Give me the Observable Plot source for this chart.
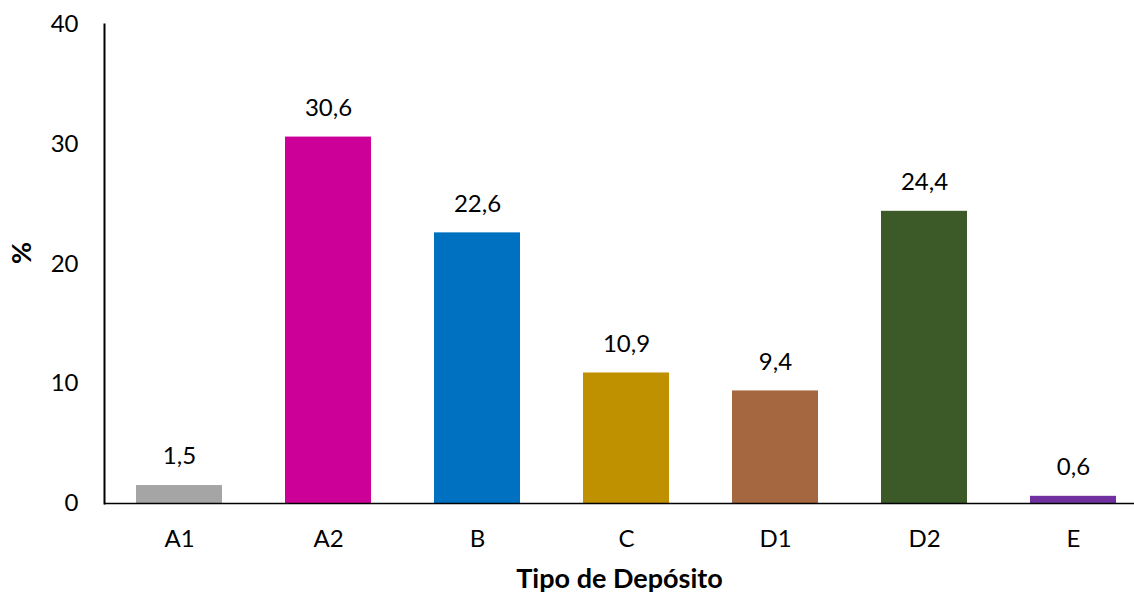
<!DOCTYPE html>
<html>
<head>
<meta charset="utf-8">
<script src="https://cdn.jsdelivr.net/npm/d3@7"></script>
<script src="https://cdn.jsdelivr.net/npm/@observablehq/plot@0.6"></script>
<style>
  html, body { margin: 0; padding: 0; background: #fff; }
  svg { display: block; }
</style>
</head>
<body>
<div id="chart"></div>
<script>
const categories = ["A1", "A2", "B", "C", "D1", "D2", "E"];
const values = [1.5, 30.6, 22.6, 10.9, 9.4, 24.4, 0.6];
const colors = ["#a5a5a5", "#cc0099", "#0070c0", "#bf9000", "#a5673f", "#3b5a27", "#7030a0"];
const yTicks = [0, 10, 20, 30, 40];

const data = categories.map((c, i) => ({cat: c, value: values[i], color: colors[i]}));
const fmt = d3.formatLocale({decimal: ",", thousands: ".", grouping: [3], currency: ["", ""]}).format(".1f");

const font = "Lato, 'Open Sans', sans-serif";

const plot = Plot.plot({
  width: 1134,
  height: 595,
  marginLeft: 104,
  marginRight: 0,
  marginTop: 24,
  marginBottom: 92,
  style: {fontFamily: font, fontSize: "24px", color: "#000", background: "#fff"},
  x: {domain: categories, range: [105, 1148], paddingInner: 0.42, paddingOuter: 0.21, label: null},
  y: {domain: [0, 40], ticks: yTicks, label: null},
  marks: [
    Plot.barY(data, {x: "cat", y: "value", fill: "color"}),
    Plot.text(data, {x: "cat", y: "value", text: d => fmt(d.value), dy: -29, fontSize: 24, fill: "#000"}),
    Plot.axisY({ticks: yTicks, tickSize: 0, tickPadding: 26, fontSize: 24, label: null}),
    Plot.axisX({tickSize: 0, tickPadding: 26, fontSize: 24, label: null}),
    Plot.frame({anchor: "left", stroke: "#000", strokeWidth: 2}),
    Plot.ruleY([0], {stroke: "#000", strokeWidth: 1.5}),
    Plot.text(["Tipo de Depósito"], {frameAnchor: "bottom", dy: 84, fontWeight: "bold", fontSize: 27, fill: "#000"}),
    Plot.text(["%"], {frameAnchor: "left", dx: -82, rotate: -90, fontWeight: "bold", fontSize: 27, fill: "#000"})
  ]
});
document.getElementById("chart").appendChild(plot);
</script>
</body>
</html>
